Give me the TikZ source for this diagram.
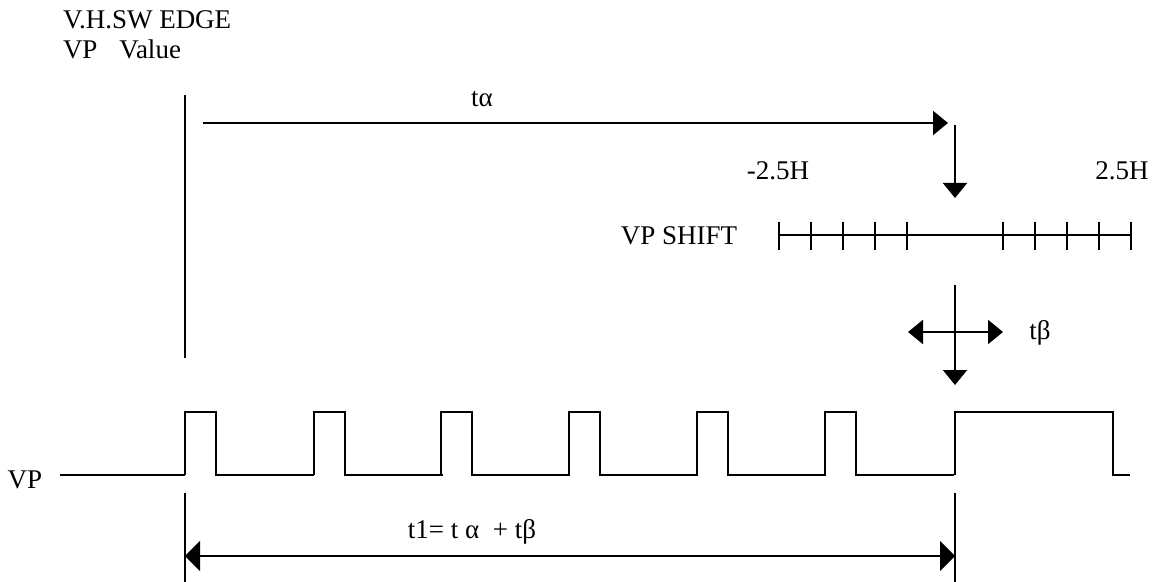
\documentclass[tikz,border=0pt]{standalone}
\usepackage{fontspec}
\setmainfont{Liberation Serif}
\usetikzlibrary{arrows.meta, positioning}

\tikzset{
  lbl/.style = {inner sep=0pt, font=\fontsize{13.5}{16}\selectfont},
  sig/.style = {line width=1pt},
  dim/.style = {{Triangle[length=7.5pt, width=15pt]}-{Triangle[length=7.5pt, width=15pt]}},
}

\begin{document}
\begin{tikzpicture}[x=0.5pt, y=-0.5pt, >={Triangle[length=7.5pt, width=12pt]}, line width=1pt]
  \useasboundingbox (0,0) rectangle (1159,582);

  % Titles
  \node[lbl, anchor=base west] (edge)  at (62,29) {V.H.SW EDGE};
  \node[lbl, anchor=base west] (value) at (62,59) {VP\hspace{11pt}Value};

  % Edge marker and t-alpha
  \coordinate (et) at (185,95);
  \coordinate (eb) at (185,358);
  \draw (et) -- (eb);
  \coordinate (as) at (203,123);
  \coordinate (ae) at (948,123);
  \draw[->] (as) -- (ae);
  \node[lbl] (ta) at (482,99) {tα};
  \coordinate (ds) at (955,125);
  \coordinate (de) at (955,198);
  \draw[->] (ds) -- (de);

  % VP shift scale
  \node[lbl] (lo)    at (778,171) {-2.5H};
  \node[lbl] (hi)    at (1122,171) {2.5H};
  \node[lbl] (shift) at (679,236) {VP SHIFT};
  \coordinate (sl) at (779,235);
  \coordinate (sr) at (1131,235);
  \draw (sl) -- (sr);
  \foreach \x in {779,811,843,875,907,1003,1035,1067,1099,1131}
    \draw (\x,222) -- (\x,250);

  % t-beta cross
  \coordinate (ct) at (955,285);
  \coordinate (cb) at (955,385);
  \coordinate (cl) at (908,332);
  \coordinate (cr) at (1003,332);
  \draw[->] (ct) -- (cb);
  \draw[<->] (cl) -- (cr);
  \node[lbl] (tb) at (1040,333) {tβ};

  % VP waveform
  \node[lbl] (vp) at (25,480) {VP};
  \draw[sig] (60,475) -- (185,475);
  \foreach \x in {185,314,441,569,697,825}
    \draw[sig] (\x,475) -- (\x,412) -- (\x+31,412) -- (\x+31,475) -- (\x+129,475);
  \draw[sig] (955,475) -- (955,412) -- (1113,412) -- (1113,475) -- (1130,475);

  % t1
  \coordinate (l1) at (185,493);
  \coordinate (l2) at (185,582);
  \coordinate (r1) at (955,493);
  \coordinate (r2) at (955,582);
  \draw (l1) -- (l2);
  \draw (r1) -- (r2);
  \coordinate (tl) at (185,556);
  \coordinate (tr) at (955,556);
  \draw[dim] (tl) -- (tr);
  \node[lbl] (t1) at (472,532) {t1= t α \ + tβ};
\end{tikzpicture}
\end{document}
